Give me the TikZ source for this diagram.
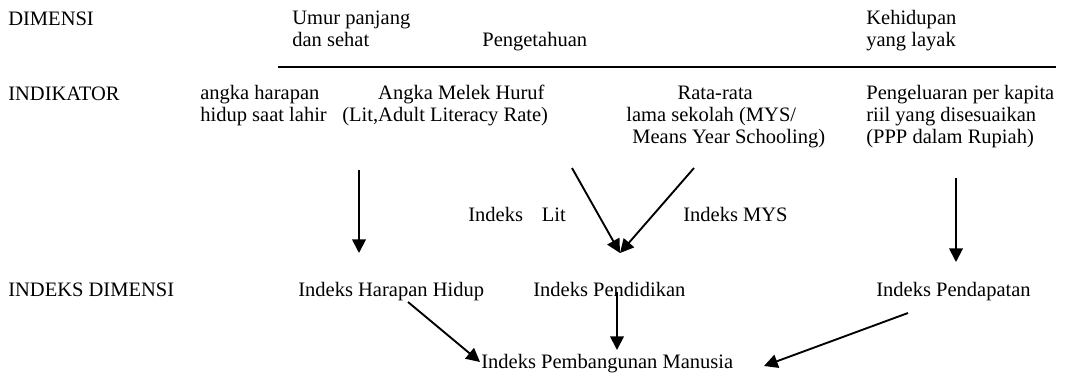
\documentclass[tikz,border=0pt]{standalone}
\usepackage{fontspec}
\setmainfont{Liberation Serif}
\usetikzlibrary{arrows.meta}

\begin{document}
\begin{tikzpicture}[
  x=0.585pt, y=-0.585pt,
  lbl/.style={anchor=base west, inner sep=0pt, align=left, font=\fontsize{12}{12.6}\selectfont},
  arr/.style={-{Triangle[length=8pt, width=8pt]}, line width=1.1pt},
  rule/.style={line width=1.1pt}
]
\useasboundingbox (0,0) rectangle (1075,375);

% header rows (base = last line)
\node[lbl] (dim) at (8,25) {DIMENSI};
\node[lbl] (umur) at (292,46.5) {Umur panjang\\dan sehat};
\node[lbl] (peng) at (482,46.5) {Pengetahuan};
\node[lbl] (layak) at (866,46.5) {Kehidupan\\yang layak};
\coordinate (rulea) at (278,67);
\coordinate (ruleb) at (1056,67);
\draw[rule] (rulea) -- (ruleb);

\node[lbl] (indik) at (8,100) {INDIKATOR};
\node[lbl] (ahh) at (200,121.5) {angka harapan\\hidup saat lahir};
\node[lbl] (amh) at (342,121.5) {\hspace*{21pt}Angka Melek Huruf\\(Lit,Adult Literacy Rate)};
\node[lbl] (mys) at (626,143) {\hspace*{30pt}Rata-rata\\lama sekolah (MYS/\\\hspace*{3.5pt}Means Year Schooling)};
\node[lbl] (ppp) at (866,143) {Pengeluaran per kapita\\riil yang disesuaikan\\(PPP dalam Rupiah)};

\node[lbl] (ilit) at (468,221) {Indeks\hspace{11pt}Lit};
\node[lbl] (imys) at (683,221) {Indeks MYS};

\node[lbl] (idim) at (8,296) {INDEKS DIMENSI};
\node[lbl] (ihh) at (298,296) {Indeks Harapan Hidup};
\node[lbl] (ipend) at (533,296) {Indeks Pendidikan};
\node[lbl] (ipdp) at (876,296) {Indeks Pendapatan};
\node[lbl] (ipm) at (481,368) {Indeks Pembangunan Manusia};

% arrow ends
\coordinate (ahhs) at (359,170);
\coordinate (ahht) at (359,253);
\coordinate (amhs) at (572,168);
\coordinate (myss) at (694,168);
\coordinate (pendt) at (620,253);
\coordinate (ppps) at (956,178);
\coordinate (pppt) at (956,262);
\coordinate (ihhs) at (408,302);
\coordinate (ipmt) at (480,362);
\coordinate (ipends) at (617,292);
\coordinate (ipendt) at (617,350);
\coordinate (ipdps) at (908,313);
\coordinate (ipmr) at (764,366);

\draw[arr] (ahhs) -- (ahht);
\draw[arr] (amhs) -- (pendt);
\draw[arr] (myss) -- (pendt);
\draw[arr] (ppps) -- (pppt);
\draw[arr] (ihhs) -- (ipmt);
\draw[arr] (ipends) -- (ipendt);
\draw[arr] (ipdps) -- (ipmr);
\end{tikzpicture}
\end{document}
